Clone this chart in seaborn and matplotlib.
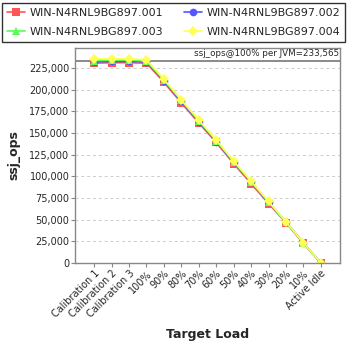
import matplotlib
matplotlib.use("Agg")
import matplotlib.pyplot as plt
import seaborn as sns
import pandas as pd
from matplotlib.ticker import FuncFormatter

categories = ["Calibration 1", "Calibration 2", "Calibration 3", "100%", "90%", "80%",
              "70%", "60%", "50%", "40%", "30%", "20%", "10%", "Active Idle"]
hosts = ["WIN-N4RNL9BG897.001", "WIN-N4RNL9BG897.002",
         "WIN-N4RNL9BG897.003", "WIN-N4RNL9BG897.004"]
ops_001 = [230500, 231000, 231000, 230500, 208500, 184500, 161500, 139000, 114500, 91500, 68500, 46500, 22500, 0]
ops_002 = [232000, 232500, 232500, 232000, 210000, 186500, 163000, 140000, 116500, 93000, 70000, 47500, 23500, 0]
ops_003 = [233500, 234000, 234000, 233000, 211000, 187500, 164000, 141000, 117000, 93500, 70500, 47000, 23000, 0]
ops_004 = [235500, 235500, 235500, 234500, 212000, 188000, 165000, 142000, 117500, 94500, 71000, 47500, 23500, 0]
ref_value = 233565
ref_label = "ssj_ops@100% per JVM=233,565"

series = [ops_001, ops_002, ops_003, ops_004]
rows = []
for h, vals in zip(hosts, series):
    for c, v in zip(categories, vals):
        rows.append({"Target Load": c, "ssj_ops": v, "host": h})
df = pd.DataFrame(rows)

sns.set_style("white")
plt.rcParams["font.family"] = ["DejaVu Sans"]

fig = plt.figure(figsize=(3.48, 3.48), dpi=100)
ax = fig.add_axes([75/348, 1-263/348, (340-75)/348, (263-48)/348])

palette = ["#ff5555", "#5555ff", "#55ff55", "#ffff55"]
markers = ["s", "o", "^", "D"]
sns.lineplot(data=df, x="Target Load", y="ssj_ops", hue="host", style="host",
             palette=palette, markers=markers, dashes=False, ax=ax,
             markersize=5.5, markeredgewidth=0, linewidth=1.2, sort=False, legend=True)

ax.set_ylim(0, 248000)
ax.set_xlim(-1.1, len(categories) - 1 + 1.1)
ax.set_yticks(range(0, 250000, 25000))
ax.yaxis.set_major_formatter(FuncFormatter(lambda v, p: f"{int(v):,}"))
ax.grid(axis="y", color="#cccccc", linestyle=(0, (3, 3)), linewidth=0.7)
ax.grid(axis="x", visible=False)
ax.set_axisbelow(True)
for s in ax.spines.values():
    s.set_color("#888888")
    s.set_linewidth(1.0)
ax.tick_params(axis="both", which="both", length=3, color="#888888", labelsize=7, pad=1,
               bottom=True, left=True, direction="out")
ax.set_xticks(range(len(categories)))
ax.set_xticklabels(categories, rotation=45, ha="right", rotation_mode="anchor")
ax.set_xlabel("Target Load", fontsize=9, fontweight="bold", labelpad=6)
ax.set_ylabel("ssj_ops", fontsize=9, fontweight="bold", labelpad=6)

ax.axhline(ref_value, color="#777777", linewidth=1.2, zorder=1)
ax.text(0.995, ref_value + 2500, ref_label, transform=ax.get_yaxis_transform(),
        ha="right", va="bottom", fontsize=6.3)

handles, labels = ax.get_legend_handles_labels()
ax.legend_.remove()
order = [0, 2, 1, 3]
leg = fig.legend([handles[i] for i in order], [labels[i] for i in order], loc="center",
                 bbox_to_anchor=(2/348, 1-43/348, 343/348, 41/348), mode="expand", ncol=2,
                 fontsize=8, frameon=True, fancybox=False, edgecolor="black",
                 handlelength=1.6, handletextpad=0.4, columnspacing=0.6,
                 borderpad=0.45, labelspacing=0.75, borderaxespad=0)
leg.get_frame().set_linewidth(1.0)

fig.savefig("out.png", dpi=100)
